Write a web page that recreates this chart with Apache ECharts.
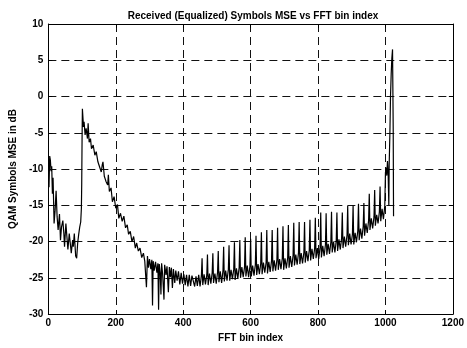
<!DOCTYPE html>
<html>
  <head>
    <meta charset="utf-8" />
    <title></title>
    <style type="text/css">
      html,
      body {
        margin: 0;
        padding: 0;
        background: #fff;
      }
      #mseChart {
        width: 467px;
        height: 348px;
      }
    </style>
  </head>
  <body>
    <div id="mseChart"></div>

    <script
      type="text/javascript"
      src="https://fastly.jsdelivr.net/npm/echarts@6.0.0/dist/echarts.min.js"
    ></script>
    <script type="text/javascript">
      // [FFT bin, MSE dB]
      var edgeLow = [
        [1, -10.7], [2, -12.5], [4, -8.2], [6, -8.8], [8, -10.3], [10, -9.6],
        [12, -13.4], [14, -11.2], [17, -17.5], [20, -15.7], [23, -13.0],
        [26, -16.6], [29, -18.4], [33, -16.2], [36, -19.8], [39, -18.0],
        [43, -17.1], [46, -18.9], [48, -20.7], [52, -17.5], [55, -19.3],
        [58, -21.1], [62, -18.9], [65, -20.2], [68, -21.6], [72, -19.8],
        [74, -20.7], [77, -18.9], [81, -22.0], [84, -22.3], [87, -20.2],
        [90, -19.0], [93, -18.0], [96, -17.3], [98, -15.4], [99, -12.0],
        [100, -6.0]
      ];

      var slopeDown = [
        [101, -1.7], [103, -3.2], [104, -4.2], [106, -3.5], [109, -5.3],
        [112, -4.4], [116, -5.8], [118, -3.7], [121, -6.3], [125, -5.8],
        [128, -7.2], [133, -6.7], [138, -8.1], [142, -7.6], [147, -9.0],
        [152, -8.8], [157, -10.4], [160, -9.4], [162, -9.0], [166, -11.0],
        [171, -11.7], [176, -12.2], [178, -10.8], [181, -13.1], [186, -12.6],
        [190, -14.5], [195, -13.8], [200, -15.4], [205, -14.9], [209, -16.8],
        [214, -16.1], [219, -17.2], [224, -16.5], [229, -18.1], [234, -17.7],
        [238, -19.0], [243, -18.6], [248, -20.0], [253, -19.3], [258, -20.9],
        [262, -20.2], [267, -21.3], [272, -20.9], [277, -22.2], [282, -21.6],
        [286, -22.7], [291, -26.3], [294, -22.0], [297, -23.6]
      ];

      var floorBand = [
        [300, -22.4], [304, -23.8], [307, -22.5], [309, -28.8], [311, -22.7],
        [314, -24.0], [318, -22.8], [322, -24.3], [325, -23.0], [327, -29.4],
        [329, -23.1], [332, -24.4], [334, -27.3], [336, -23.0], [339, -24.5],
        [343, -28.0], [345, -23.2], [349, -24.6], [352, -23.4], [356, -27.0],
        [359, -23.5], [362, -24.9], [365, -23.6], [368, -26.4], [371, -23.8],
        [375, -25.7], [378, -24.0], [382, -25.4], [386, -24.1], [390, -25.9],
        [394, -24.3], [398, -25.8], [402, -24.5], [406, -26.0], [410, -24.6],
        [414, -26.2], [418, -24.6], [422, -26.1], [426, -24.7],
        [430, -24.7], [434, -26.2], [438, -24.8], [442, -26.1], [446, -24.6],
        [450, -26.2], [454, -24.7], [458, -26.0], [462, -24.5], [466, -25.9],
        [470, -24.6], [474, -26.0], [478, -24.4], [482, -25.8], [486, -24.3],
        [490, -25.7], [494, -24.4], [498, -25.8], [502, -24.2], [506, -25.6],
        [510, -24.1], [514, -25.7], [518, -24.0], [522, -25.5], [526, -24.0],
        [530, -25.4], [534, -23.8], [538, -25.4], [542, -23.9], [546, -25.2],
        [550, -23.8], [554, -25.3], [558, -23.7], [562, -25.1], [566, -23.6],
        [570, -25.0], [574, -23.5], [578, -24.9], [582, -23.5], [586, -24.8],
        [590, -23.3], [594, -24.9], [598, -23.4], [602, -24.8], [606, -23.3],
        [610, -24.7], [614, -23.2], [618, -24.6], [622, -23.1], [626, -24.5],
        [630, -23.0], [634, -24.5], [638, -22.9], [642, -24.3], [646, -22.9],
        [650, -24.4], [654, -22.8], [658, -24.2], [662, -22.7], [666, -24.1],
        [670, -22.6], [674, -24.0], [678, -22.5], [682, -23.9], [686, -22.4],
        [690, -23.8], [694, -22.3], [698, -23.9], [702, -22.3], [706, -23.7],
        [710, -22.2], [714, -23.6], [718, -22.0], [722, -23.5], [726, -21.9],
        [730, -23.3], [734, -21.8], [738, -23.2], [742, -21.6], [746, -23.1],
        [750, -21.6], [754, -23.0], [758, -21.5], [762, -22.9], [766, -21.3],
        [770, -22.7], [774, -21.2], [778, -22.6], [782, -21.0], [786, -22.4],
        [790, -20.9], [794, -22.3], [798, -20.9], [802, -22.4], [806, -20.8],
        [810, -22.2], [814, -20.6], [818, -22.0], [822, -20.4], [826, -21.8],
        [830, -20.3], [834, -21.7], [838, -20.1], [842, -21.5], [846, -20.0],
        [850, -21.5], [854, -19.9], [858, -21.3], [862, -19.7], [866, -21.1],
        [870, -19.5], [874, -20.9], [878, -19.3], [882, -20.7], [886, -19.1],
        [890, -20.5], [894, -18.9], [898, -20.4], [902, -19.0], [906, -20.4],
        [910, -18.8], [914, -20.1], [918, -18.5], [922, -19.8], [926, -18.2],
        [930, -19.6], [934, -17.9], [938, -19.2], [942, -17.5], [946, -18.8],
        [950, -17.1], [954, -18.4], [958, -16.8], [962, -18.2], [966, -16.6],
        [970, -17.8], [974, -16.3], [978, -17.5], [982, -15.9], [986, -17.2],
        [990, -15.5], [994, -16.9], [998, -15.1]
      ];

      // pilot spikes, every 16 bins
      var pilotSpikes = [
        [456, -22.3], [472, -21.8], [488, -21.6], [504, -21.3], [520, -20.7],
        [536, -20.5], [552, -20.1], [568, -19.8], [584, -19.4], [600, -19.6],
        [616, -19.2], [632, -18.7], [648, -18.4], [664, -18.4], [680, -18.1],
        [696, -17.9], [712, -17.7], [728, -17.4], [744, -17.3], [760, -17.3],
        [776, -17.0], [792, -16.7], [808, -16.0], [824, -16.1], [840, -15.9],
        [856, -16.0], [872, -16.0], [888, -15.1], [904, -15.0], [920, -14.8],
        [936, -14.7], [952, -13.4], [968, -12.9], [984, -12.4], [1000, -10.5]
      ];

      var edgeHigh = [
        [1002, -9.8], [1004, -10.9], [1006, -8.9], [1008, -10.6], [1010, -15.0],
        [1011, -9.5], [1013, -5.4], [1015, 0.0], [1017, 3.1], [1019, 5.3],
        [1021, 6.5], [1023, -4.5], [1024, -16.5]
      ];

      var xTicks = { min: 0, max: 1200, interval: 200 };
      var yTicks = { min: -30, max: 10, interval: 5 };

      var points = edgeLow
        .concat(slopeDown, floorBand, pilotSpikes, edgeHigh)
        .sort(function (a, b) {
          return a[0] - b[0];
        });

      var myChart = echarts.init(document.getElementById("mseChart"), null, {
        renderer: "canvas",
      });

      var font = "Liberation Sans";
      var plain = function (v) {
        return String(v);
      };
      var dashGrid = {
        show: true,
        lineStyle: { color: "#111", width: 1, type: [8, 5] },
      };
      var blackLine = { show: true, onZero: false, lineStyle: { color: "#000", width: 1 } };
      var inTick = { show: true, inside: true, length: 4, lineStyle: { color: "#000" } };

      var option = {
        animation: false,
        backgroundColor: "#fff",
        title: {
          text: "Received (Equalized) Symbols MSE vs FFT bin index",
          left: 248,
          textAlign: "center",
          top: 6,
          textStyle: {
            fontFamily: font,
            fontSize: 10,
            fontWeight: "bold",
            color: "#000",
          },
        },
        grid: { left: 40, right: 10, top: 24, bottom: 30 },
        xAxis: [
          {
            type: "value",
            min: xTicks.min,
            max: xTicks.max,
            interval: xTicks.interval,
            name: "FFT bin index",
            nameLocation: "middle",
            nameGap: 14,
            nameTextStyle: { fontFamily: font, fontSize: 10, fontWeight: "bold", color: "#000" },
            axisLine: blackLine,
            axisTick: inTick,
            axisLabel: {
              margin: 4,
              fontFamily: font,
              fontSize: 10,
              fontWeight: "bold",
              color: "#000",
              formatter: plain,
            },
            splitLine: dashGrid,
          },
          {
            type: "value",
            position: "top",
            min: xTicks.min,
            max: xTicks.max,
            interval: xTicks.interval,
            axisLine: blackLine,
            axisTick: inTick,
            axisLabel: { show: false },
            splitLine: { show: false },
          },
        ],
        yAxis: [
          {
            type: "value",
            min: yTicks.min,
            max: yTicks.max,
            interval: yTicks.interval,
            name: "QAM Symbols MSE in dB",
            nameLocation: "middle",
            nameGap: 25,
            nameTextStyle: { fontFamily: font, fontSize: 10, fontWeight: "bold", color: "#000" },
            axisLine: blackLine,
            axisTick: inTick,
            axisLabel: {
              margin: 5,
              fontFamily: font,
              fontSize: 10,
              fontWeight: "bold",
              color: "#000",
              formatter: plain,
            },
            splitLine: dashGrid,
          },
          {
            type: "value",
            position: "right",
            min: yTicks.min,
            max: yTicks.max,
            interval: yTicks.interval,
            axisLine: blackLine,
            axisTick: inTick,
            axisLabel: { show: false },
            splitLine: { show: false },
          },
        ],
        series: [
          {
            type: "line",
            xAxisIndex: 0,
            yAxisIndex: 0,
            data: points,
            showSymbol: false,
            symbol: "none",
            lineStyle: { color: "#000", width: 1.2 },
          },
        ],
      };

      myChart.setOption(option);
    </script>
  </body>
</html>
